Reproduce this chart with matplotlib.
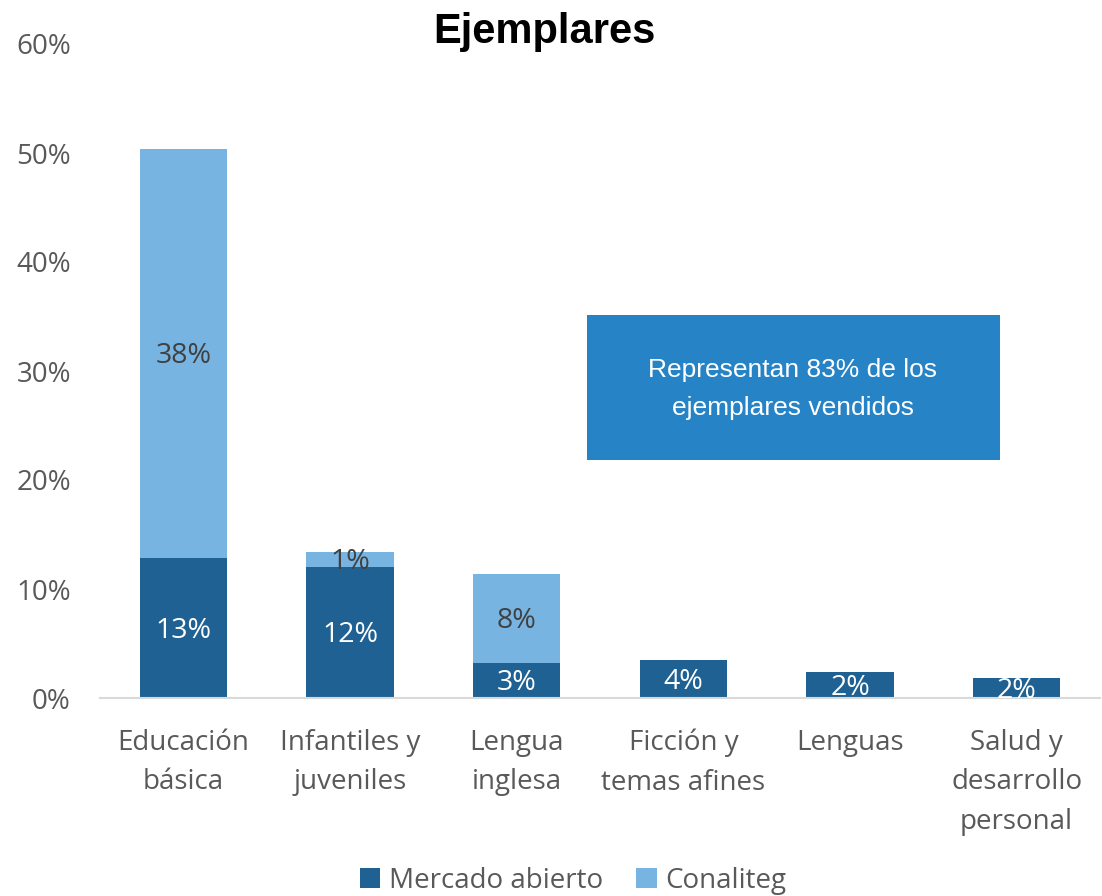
import matplotlib
matplotlib.use("Agg")
import matplotlib.pyplot as plt
from matplotlib.patches import Rectangle
from matplotlib.ticker import FuncFormatter

categories = ["Educación\nbásica", "Infantiles y\njuveniles", "Lengua\ninglesa",
              "Ficción y\ntemas afines", "Lenguas", "Salud y\ndesarrollo\npersonal"]
mercado = [12.8, 12.0, 3.2, 3.5, 2.4, 1.8]
conaliteg = [37.6, 1.4, 8.2, 0.0, 0.0, 0.0]
mercado_labels = ["13%", "12%", "3%", "4%", "2%", "2%"]
conaliteg_labels = ["38%", "1%", "8%", "", "", ""]
yticks = [0, 10, 20, 30, 40, 50, 60]

C_DARK = "#1F6192"
C_LIGHT = "#77B4E2"
C_BOX = "#2683C6"
GRAY = "#595959"

plt.rcParams['font.family'] = ['Open Sans', 'DejaVu Sans']

fig = plt.figure(figsize=(11.02, 8.96), dpi=100)
ax = fig.add_axes([100/1102, (896-698)/896, 1000/1102, (698-44)/896])

x = list(range(len(categories)))
w = 0.524
ax.bar(x, mercado, width=w, color=C_DARK, label="Mercado abierto")
ax.bar(x, conaliteg, width=w, bottom=mercado, color=C_LIGHT, label="Conaliteg")

for i in x:
    ax.text(i, mercado[i] / 2 - 0.25, mercado_labels[i], ha="center", va="center",
            color="white", fontsize=20.5)
    if conaliteg_labels[i]:
        ax.text(i, mercado[i] + conaliteg[i] / 2 - 0.25, conaliteg_labels[i], ha="center",
                va="center", color="#404040", fontsize=20.5)

ax.set_xlim(-0.5, 5.5)
ax.set_ylim(0, 60)
ax.set_yticks(yticks)
ax.yaxis.set_major_formatter(FuncFormatter(lambda v, p: f"{v:.0f}%"))
ax.set_xticks(x)
ax.set_xticklabels(categories, linespacing=1.55)
ax.tick_params(axis="both", length=0, labelsize=20, colors=GRAY)
ax.tick_params(axis="x", pad=22)
ax.tick_params(axis="y", pad=21)
for s in ["top", "right", "left"]:
    ax.spines[s].set_visible(False)
ax.spines["bottom"].set_color("#D9D9D9")
ax.spines["bottom"].set_linewidth(1.5)

fig.text(544/1102, 1 - 32/896, "Ejemplares", ha="center", va="center",
         fontsize=30, fontweight="bold",
         family=["Liberation Sans Narrow", "Liberation Sans", "DejaVu Sans"])

fig.patches.append(Rectangle((587/1102, 1 - 460/896), (1000-587)/1102, (460-315)/896,
                             transform=fig.transFigure, facecolor=C_BOX,
                             edgecolor="none", zorder=3))
fig.text(793/1102, 1 - 389/896, "Representan 83% de los\nejemplares vendidos",
         ha="center", va="center", color="white", fontsize=19, linespacing=1.72,
         family=["Liberation Sans", "DejaVu Sans"], zorder=4)

leg = fig.legend(loc="center", bbox_to_anchor=(573/1102, 1 - 881/896), ncol=2,
                 frameon=False, fontsize=20, handlelength=0.75, handleheight=0.75,
                 handletextpad=0.3, columnspacing=1.2, labelcolor=GRAY)

fig.savefig("out.png", dpi=100)
